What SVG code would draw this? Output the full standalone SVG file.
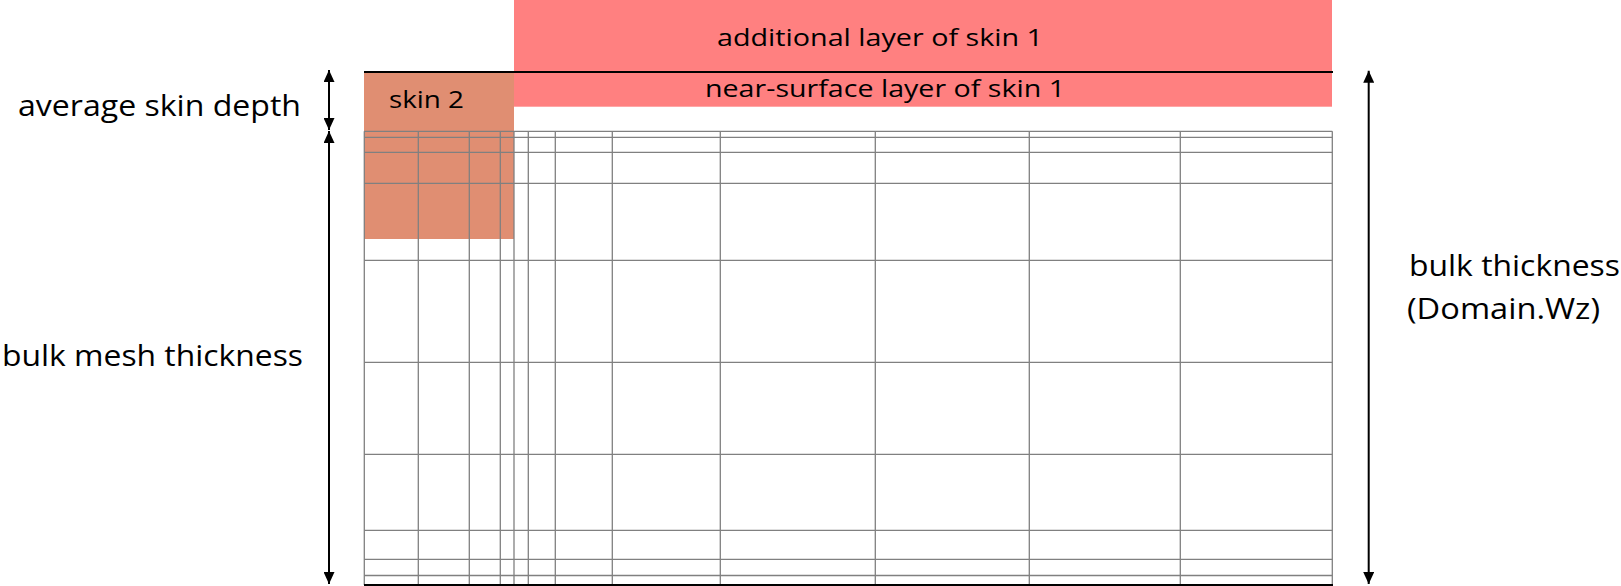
<svg xmlns="http://www.w3.org/2000/svg" width="1621" height="586" viewBox="0 0 1621 586">
  <style>
    .lbl { font-family: "Open Sans", "Liberation Sans", sans-serif; fill: #000; }
    .big { font-size: 29px; }
    .small { font-size: 23px; }
    .grid line { stroke: #808080; stroke-width: 1.3; }
    .arrow { stroke: #000; stroke-width: 2; fill: none; }
    .edge { stroke: #000; stroke-width: 2; }
  </style>
  <defs>
    <marker id="head" viewBox="0 0 12 11" refX="12" refY="5.5" markerWidth="12" markerHeight="11" markerUnits="userSpaceOnUse" orient="auto-start-reverse">
      <path d="M0,0 L12,5.5 L0,11 z" fill="#000"/>
    </marker>
  </defs>
  <rect width="1621" height="586" fill="#fff"/>

  <g id="additional-layer">
    <rect x="514" y="0" width="818" height="72" fill="#FF8080"/>
    <text class="lbl small" x="717" y="45.5" textLength="326" lengthAdjust="spacingAndGlyphs">additional layer of skin 1</text>
  </g>

  <g id="near-surface-layer">
    <rect x="514" y="72" width="818" height="34.7" fill="#FF8080"/>
    <text class="lbl small" x="705" y="96.7" textLength="360" lengthAdjust="spacingAndGlyphs">near-surface layer of skin 1</text>
  </g>

  <g id="skin2">
    <rect x="364" y="72" width="150" height="167" fill="#E08E72"/>
    <text class="lbl small" x="389" y="108.3" textLength="75" lengthAdjust="spacingAndGlyphs">skin 2</text>
  </g>

  <g id="mesh" class="grid">
    <line x1="364" y1="131.3" x2="1332.3" y2="131.3"/>
    <line x1="364" y1="137.3" x2="1332.3" y2="137.3"/>
    <line x1="364" y1="152.3" x2="1332.3" y2="152.3"/>
    <line x1="364" y1="183.3" x2="1332.3" y2="183.3"/>
    <line x1="364" y1="260.3" x2="1332.3" y2="260.3"/>
    <line x1="364" y1="362.3" x2="1332.3" y2="362.3"/>
    <line x1="364" y1="454.3" x2="1332.3" y2="454.3"/>
    <line x1="364" y1="530.3" x2="1332.3" y2="530.3"/>
    <line x1="364" y1="559.3" x2="1332.3" y2="559.3"/>
    <line x1="364" y1="575.5" x2="1332.3" y2="575.5"/>
    <line x1="364.3" y1="131.3" x2="364.3" y2="585"/>
    <line x1="418.3" y1="131.3" x2="418.3" y2="585"/>
    <line x1="469.3" y1="131.3" x2="469.3" y2="585"/>
    <line x1="500.3" y1="131.3" x2="500.3" y2="585"/>
    <line x1="514" y1="131.3" x2="514" y2="585"/>
    <line x1="528.3" y1="131.3" x2="528.3" y2="585"/>
    <line x1="555.3" y1="131.3" x2="555.3" y2="585"/>
    <line x1="612.3" y1="131.3" x2="612.3" y2="585"/>
    <line x1="720.3" y1="131.3" x2="720.3" y2="585"/>
    <line x1="875.3" y1="131.3" x2="875.3" y2="585"/>
    <line x1="1029.3" y1="131.3" x2="1029.3" y2="585"/>
    <line x1="1180.3" y1="131.3" x2="1180.3" y2="585"/>
    <line x1="1332.3" y1="131.3" x2="1332.3" y2="585"/>
  </g>

  <g id="surface-lines">
    <line class="edge" x1="364" y1="72" x2="1333" y2="72"/>
    <line class="edge" x1="364" y1="585" x2="1333" y2="585"/>
  </g>

  <g id="connectors">
    <line class="arrow" x1="329" y1="70" x2="329" y2="130" marker-start="url(#head)" marker-end="url(#head)"/>
    <line class="arrow" x1="329" y1="131" x2="329" y2="584" marker-start="url(#head)" marker-end="url(#head)"/>
    <line class="arrow" x1="1368.7" y1="70.7" x2="1368.7" y2="584" marker-start="url(#head)" marker-end="url(#head)"/>
  </g>

  <g id="label-skin-depth">
    <text class="lbl big" x="18" y="116" textLength="283" lengthAdjust="spacingAndGlyphs">average skin depth</text>
  </g>
  <g id="label-bulk-mesh">
    <text class="lbl big" x="2" y="366" textLength="301" lengthAdjust="spacingAndGlyphs">bulk mesh thickness</text>
  </g>
  <g id="label-bulk-thickness">
    <text class="lbl big" x="1409" y="276.3" textLength="211" lengthAdjust="spacingAndGlyphs">bulk thickness</text>
    <text class="lbl big" x="1407" y="318.5" textLength="193" lengthAdjust="spacingAndGlyphs">(Domain.Wz)</text>
  </g>
</svg>
